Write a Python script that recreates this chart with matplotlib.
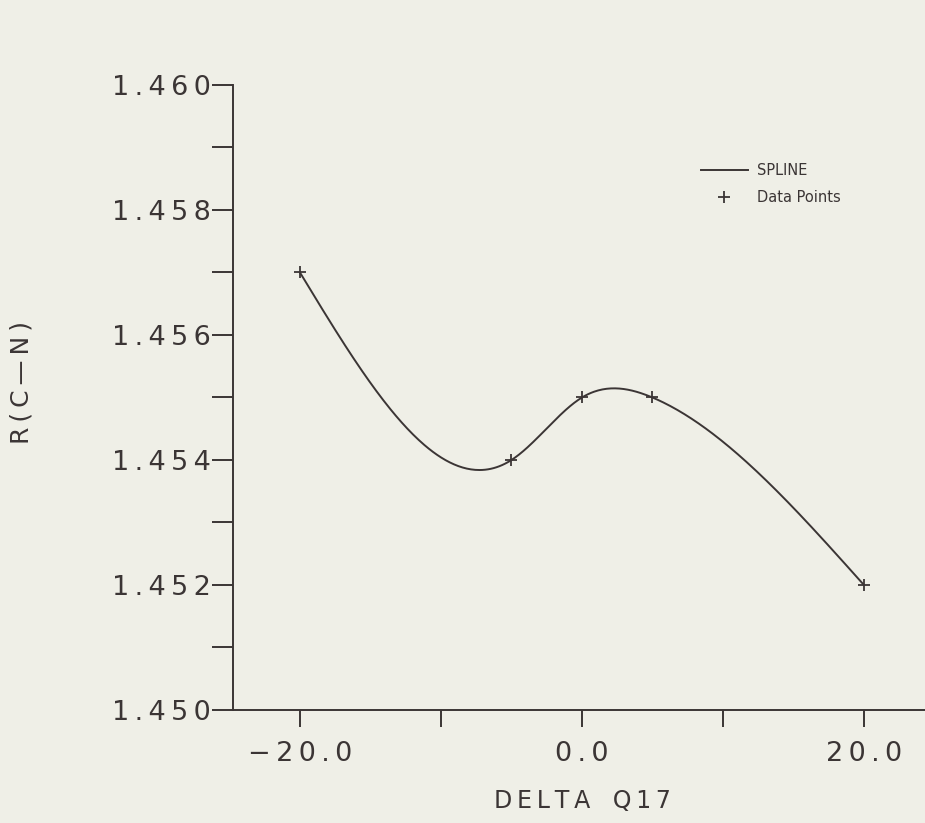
import numpy as np
import matplotlib; matplotlib.use("Agg")
import matplotlib.pyplot as plt

# --- data ---
dq17 = [-20.0, -5.0, 0.0, 5.0, 20.0]
r_cn = [1.457, 1.454, 1.455, 1.455, 1.452]
xticks = [-20, -10, 0, 10, 20]
xlabels = ['\u221220.0', '', '0.0', '', '20.0']
yticks = [1.450, 1.451, 1.452, 1.453, 1.454, 1.455, 1.456, 1.457, 1.458, 1.459, 1.460]
ylabels = ['1.450', '', '1.452', '', '1.454', '', '1.456', '', '1.458', '', '1.460']

def natural_spline(x, y, xs):
    x = np.asarray(x, float); y = np.asarray(y, float)
    n = len(x); h = np.diff(x)
    A = np.zeros((n, n)); b = np.zeros(n)
    A[0, 0] = A[-1, -1] = 1
    for i in range(1, n-1):
        A[i, i-1] = h[i-1]; A[i, i] = 2*(h[i-1]+h[i]); A[i, i+1] = h[i]
        b[i] = 6*((y[i+1]-y[i])/h[i] - (y[i]-y[i-1])/h[i-1])
    M = np.linalg.solve(A, b)
    k = np.clip(np.searchsorted(x, xs) - 1, 0, n-2)
    t0 = x[k+1]-xs; t1 = xs-x[k]; hk = h[k]
    return (M[k]*t0**3 + M[k+1]*t1**3)/(6*hk) + (y[k]/hk - M[k]*hk/6)*t0 + (y[k+1]/hk - M[k+1]*hk/6)*t1

def spaced(s, gap='\u2009'):  # old plotter font is wide-set, pad letters a little
    return gap.join(s)

bg = '#efefe7'; ink = '#3b3535'
plt.rcParams['font.family'] = 'DejaVu Sans'
fig = plt.figure(figsize=(9.25, 8.23), dpi=100, facecolor=bg)
ax = fig.add_axes([233/925, 113/823, 692/925, 625/823], facecolor=bg)

xs = np.linspace(dq17[0], dq17[-1], 400)
ax.plot(xs, natural_spline(dq17, r_cn, xs), color=ink, lw=1.4, label='SPLINE')
ax.plot(dq17, r_cn, ls='none', marker='+', ms=8, mew=1.3, color=ink, label='Data Points')

ax.set_xlim(-24.75, 24.33); ax.set_ylim(1.450, 1.460)
for s in ['top', 'right']: ax.spines[s].set_visible(False)
for s in ['left', 'bottom']: ax.spines[s].set_color(ink); ax.spines[s].set_linewidth(1.4)
ax.set_xticks(xticks); ax.set_xticklabels([spaced(l) for l in xlabels])
ax.set_yticks(yticks); ax.set_yticklabels([spaced(l) for l in ylabels])
ax.tick_params(axis='both', direction='out', width=1.4, color=ink, labelcolor=ink, labelsize=19.5)
ax.tick_params(axis='y', length=15, pad=1)
ax.tick_params(axis='x', length=12.5, pad=10)

fig.text(582/925, 1-801/823, spaced('DELTA') + '   ' + spaced('Q17'), ha='center', va='center', fontsize=17, color=ink)
fig.text(22/925, 1-382/823, spaced('R(C\u2014N)'), ha='center', va='center', rotation=90, fontsize=18, color=ink)

leg = ax.legend(loc='upper left', bbox_to_anchor=(455/692, (710-150)/625), frameon=False,
                fontsize=10.5, handlelength=3.2, handletextpad=0.6, labelspacing=0.8)
for t in leg.get_texts(): t.set_color(ink)

fig.savefig('out.png', dpi=100, facecolor=bg)
